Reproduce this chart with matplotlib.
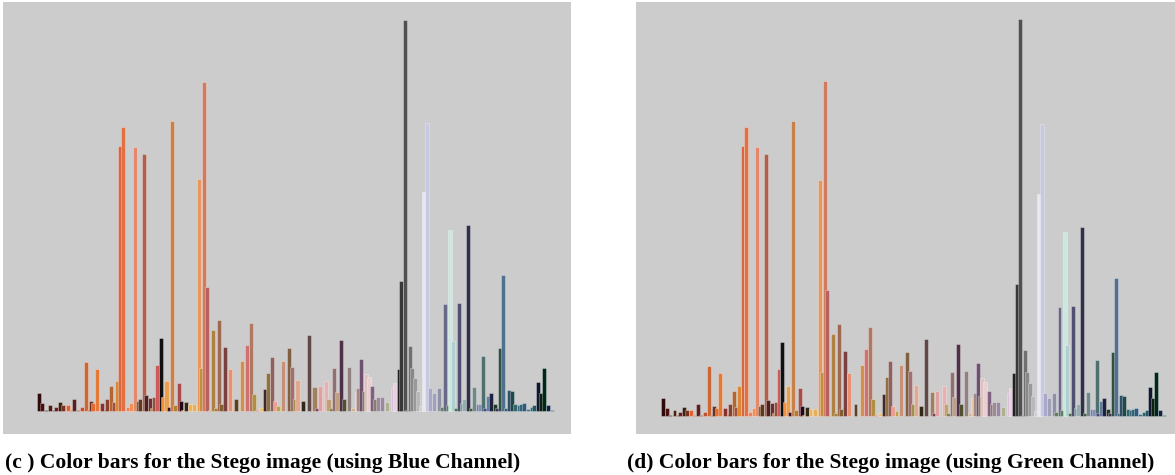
import matplotlib
matplotlib.use('Agg')
import matplotlib.pyplot as plt

# colour bins (position along the colour ordering), counts, and bar colours
bin_pos = [105, 114, 124, 136, 145, 152, 162, 171, 183, 191, 200, 210, 221, 232, 241, 246,
           253, 263, 277, 287, 291, 301, 308, 316, 325, 334, 347, 356, 365, 373, 380, 389,
           396, 406, 412, 417, 425, 435, 442, 451, 457, 466, 475, 484, 490, 496, 505, 514,
           526, 540, 545, 553, 561, 570, 577, 585, 593, 600, 609, 622, 639, 656, 669, 679,
           687, 695, 708, 717, 726, 736, 744, 753, 766, 782, 791, 799, 806, 821, 836, 852,
           858, 866, 884, 890, 897, 906, 914, 923, 932, 946, 957, 966, 970, 979, 985, 991,
           999, 1009, 1017, 1025, 1035, 1048, 1066, 1071, 1080, 1087, 1096, 1104, 1111, 1116,
           1125, 1133, 1141, 1149, 1158, 1166, 1176, 1190, 1197, 1206, 1213, 1220, 1227, 1236,
           1244, 1251, 1258, 1268, 1276, 1285, 1295, 1301, 1309, 1313, 1322, 1331, 1340, 1347,
           1355, 1363, 1371, 1378, 1386, 1396, 1405, 1411, 1419, 1431, 1441, 1448, 1458, 1465,
           1474, 1484, 1496]

blue_counts = [18, 8, 1, 6, 1, 4, 9, 6, 6, 1, 12, 1, 4, 49, 1, 10,
               8, 42, 8, 2, 12, 25, 9, 30, 265, 284, 4, 8, 264, 10, 12, 257,
               16, 13, 3, 14, 46, 73, 14, 30, 4, 290, 6, 28, 10, 1, 9, 7,
               7, 232, 43, 329, 124, 1, 81, 3, 91, 7, 64, 42, 12, 50, 66, 88,
               17, 1, 3, 22, 38, 54, 10, 5, 50, 63, 44, 12, 31, 10, 76, 24,
               3, 25, 30, 12, 3, 43, 19, 71, 12, 44, 3, 18, 23, 52, 20, 37,
               34, 25, 12, 14, 14, 9, 23, 28, 42, 130, 391, 1, 65, 43,
               33, 20, 5, 219, 288, 23, 18, 23, 4, 107, 6, 181, 70, 3,
               108, 8, 12, 186, 3, 24, 7, 7, 55, 3, 15, 18, 7, 3,
               63, 136, 3, 21, 20, 7, 6, 7, 8, 2, 4, 6, 29, 18,
               43, 6, 1]

green_counts = [18, 8, 1, 6, 1, 4, 9, 6, 6, 1, 12, 1, 4, 49, 1, 10,
                8, 42, 8, 2, 12, 25, 9, 30, 266, 285, 4, 8, 265, 10, 12, 258,
                16, 13, 3, 14, 46, 73, 14, 30, 4, 291, 6, 28, 10, 1, 9, 7,
                7, 233, 43, 330, 124, 1, 81, 3, 91, 7, 64, 42, 12, 50, 66, 88,
                17, 1, 3, 22, 38, 54, 10, 5, 50, 63, 44, 12, 31, 10, 76, 24,
                3, 25, 30, 12, 3, 43, 19, 71, 12, 44, 3, 18, 23, 52, 20, 37,
                34, 25, 12, 14, 14, 9, 23, 28, 42, 130, 391, 1, 65, 43,
                33, 20, 5, 219, 288, 23, 18, 23, 4, 107, 6, 181, 70, 3,
                108, 8, 12, 186, 3, 24, 7, 7, 55, 3, 15, 18, 7, 3,
                63, 136, 3, 21, 20, 7, 6, 7, 8, 2, 4, 6, 29, 18,
                43, 6, 1]

bar_colors = ['#2e0a0a', '#4a1010', '#3a1010', '#4a2010', '#502020', '#6a2020', '#3a2010', '#7a3020',
              '#e06030', '#c05030', '#5a2020', '#804020', '#c05030', '#cc6633', '#b04030', '#6a3020',
              '#e06a30', '#e47a35', '#8a3030', '#a05030', '#8a4030', '#b5652f', '#a05040', '#d98935',
              '#d8663f', '#e37040', '#f08060', '#f09050', '#e6876b', '#8a5a30', '#5a3a20', '#b0604a',
              '#4a2020', '#6a3030', '#d09030', '#905040', '#d05a5a', '#101010', '#f09040', '#e8a050',
              '#3a1030', '#c9804a', '#b08030', '#a84a4a', '#200818', '#f0a050', '#302810', '#f0b060',
              '#e8b050', '#e8965a', '#c09040', '#d07a60', '#b86060', '#c09040', '#b08040', '#a08030',
              '#a06850', '#806030', '#7a4040', '#e89070', '#5a4020', '#d09050', '#d07070', '#b07860',
              '#b09040', '#d06080', '#f0c060', '#402828', '#907040', '#906060', '#e8a090', '#c0a040',
              '#c89078', '#806040', '#a07070', '#a09050', '#e0a890', '#302818', '#604848', '#a08060',
              '#804060', '#e0a0a0', '#e8b0b0', '#c0a070', '#808050', '#907070', '#c0a080', '#503048',
              '#505030', '#908080', '#d0b090', '#e8c8a8', '#a08888', '#705070', '#808060', '#e0c0c0',
              '#e8d0d0', '#806080', '#808070', '#a08898', '#9888a0', '#b0b090', '#d8c0d8', '#e8d0e0',
              '#202020', '#383838', '#505050', '#604080', '#707070', '#888888', '#999999', '#b8b8b8',
              '#d0d0d0', '#e8e8f0', '#c8c8e0', '#a8a8c8', '#a0a0b8', '#9090a8', '#608060', '#686888',
              '#608060', '#c8e8e0', '#b0d0d0', '#507050', '#505070', '#80a0a0', '#90b0b0', '#303048',
              '#406040', '#708888', '#7878a8', '#8090b0', '#507070', '#504080', '#6080a0', '#202040',
              '#203820', '#403060', '#305040', '#507090', '#406070', '#305068', '#204848', '#306868',
              '#406088', '#306870', '#305880', '#307080', '#306070', '#205868', '#101830', '#102010',
              '#002818', '#102040', '#205050']

captions = ['(c ) Color bars for the Stego image (using Blue Channel)',
            '(d) Color bars for the Stego image (using Green Channel)']


def draw_panel(ax, counts, xlim, ylim):
    ax.set_facecolor('#cccccc')
    ax.bar(bin_pos, counts, width=11, color=bar_colors,
           edgecolor=(1, 1, 1, 0.35), linewidth=0.6)
    ax.set_xlim(*xlim)
    ax.set_ylim(*ylim)
    for s in ax.spines.values():
        s.set_visible(False)
    ax.set_xticks([])
    ax.set_yticks([])


W, H = 1175, 475
fig = plt.figure(figsize=(W / 100, H / 100), dpi=100)
fig.patch.set_facecolor('white')

ax1 = fig.add_axes([3 / W, 1 - 434 / H, 568 / W, 432 / H])
draw_panel(ax1, blue_counts, (8, 1547), (-23.5, 408.5))

ax2 = fig.add_axes([636 / W, 1 - 434 / H, 539 / W, 432 / H])
draw_panel(ax2, green_counts, (29, 1527), (-17.7, 408))

fig.text(5 / W, 1 - 463 / H, captions[0], fontsize=15.5, fontweight='bold',
         family='Liberation Serif', ha='left', va='center')
fig.text(627 / W, 1 - 463 / H, captions[1], fontsize=15.5, fontweight='bold',
         family='Liberation Serif', ha='left', va='center')

fig.savefig('out.png', dpi=100)
